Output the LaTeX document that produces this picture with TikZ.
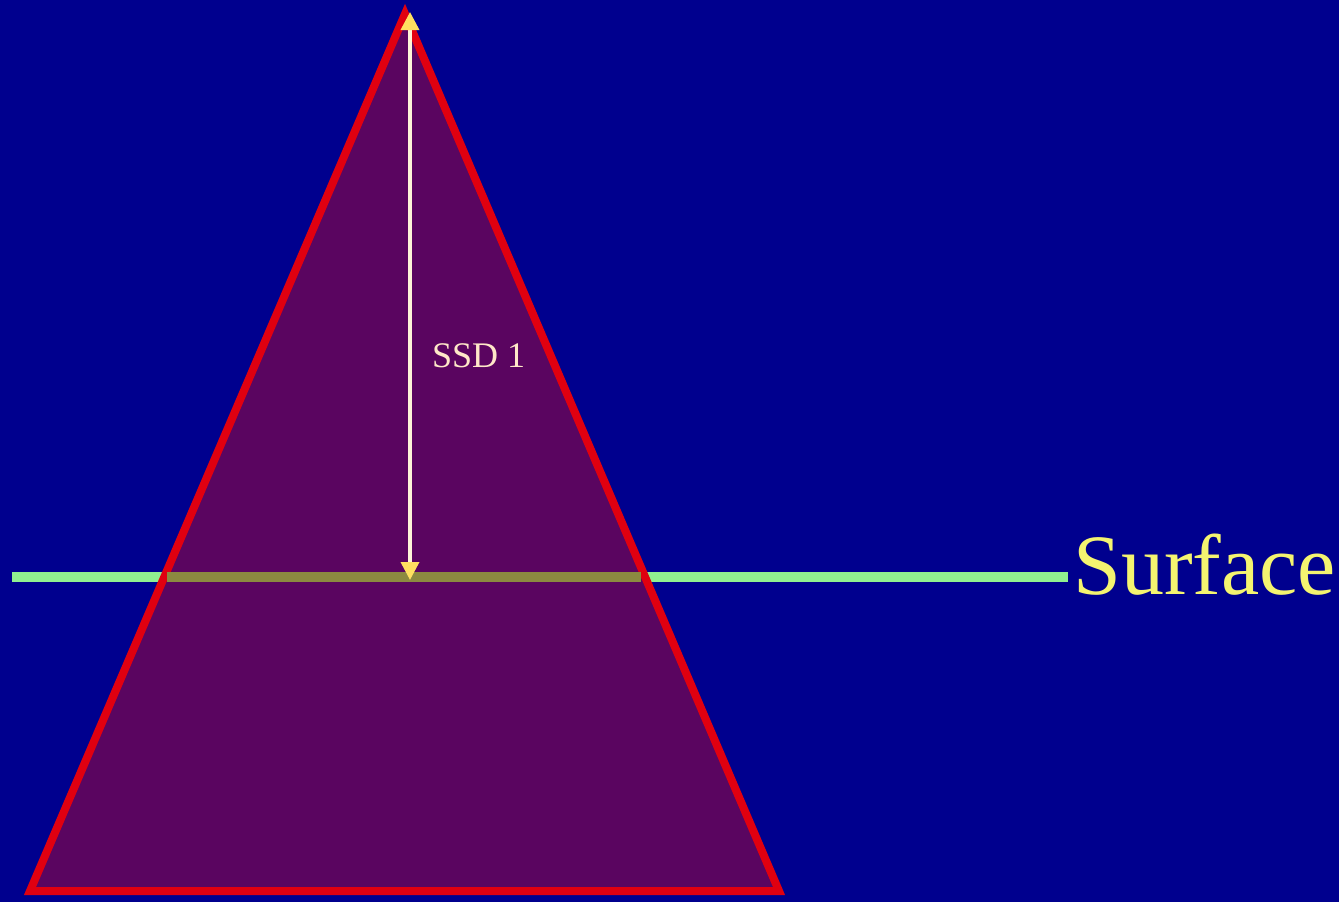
\documentclass[tikz,border=0pt]{standalone}
\usepackage{fontspec}
\setmainfont{Liberation Serif}
\definecolor{bg}{HTML}{00008E}
\definecolor{tri}{HTML}{5A0560}
\definecolor{edge}{HTML}{E00010}
\definecolor{surf}{HTML}{90F090}
\definecolor{surfin}{HTML}{8C8A40}
\definecolor{arr}{HTML}{FFF4D8}
\definecolor{arrhead}{HTML}{FFE060}
\definecolor{lbl}{HTML}{FFE8C8}
\definecolor{surftxt}{HTML}{F4F470}
\usetikzlibrary{arrows.meta}
\tikzset{
  beam/.style={draw=edge, line width=8pt, fill=tri, line join=miter},
  surfline/.style={line width=10pt},
  dim/.style={draw=arr, line width=3.5pt, {Triangle[length=18pt,width=18pt,fill=arrhead,color=arrhead]}-{Triangle[length=18pt,width=18pt,fill=arrhead,color=arrhead]}},
}
\begin{document}
\begin{tikzpicture}[x=1pt,y=-1pt]
\useasboundingbox (0,0) rectangle (1339,902);
\fill[bg] (0,0) rectangle (1339,902);
\coordinate (apex) at (405,14);
\coordinate (bl) at (30,891);
\coordinate (br) at (779,891);
\coordinate (sl) at (12,577);
\coordinate (sr) at (1068,577);
\coordinate (il) at (167,577);
\coordinate (ir) at (641,577);
\draw[surf, surfline] (sl) -- (sr);
\draw[beam] (apex) -- (bl) -- (br) -- cycle;
\draw[surfin, surfline] (il) -- (ir);
\coordinate (top) at (410,12);
\coordinate (bot) at (410,580);
\draw[dim] (top) -- (bot);
\node[lbl, font=\fontsize{36}{40}\selectfont, anchor=base west, inner sep=0pt] (ssd) at (432,367) {SSD 1};
\node[surftxt, font=\fontsize{86}{90}\selectfont, anchor=base west, inner sep=0pt] (surface) at (1073,594) {Surface};
\end{tikzpicture}
\end{document}
